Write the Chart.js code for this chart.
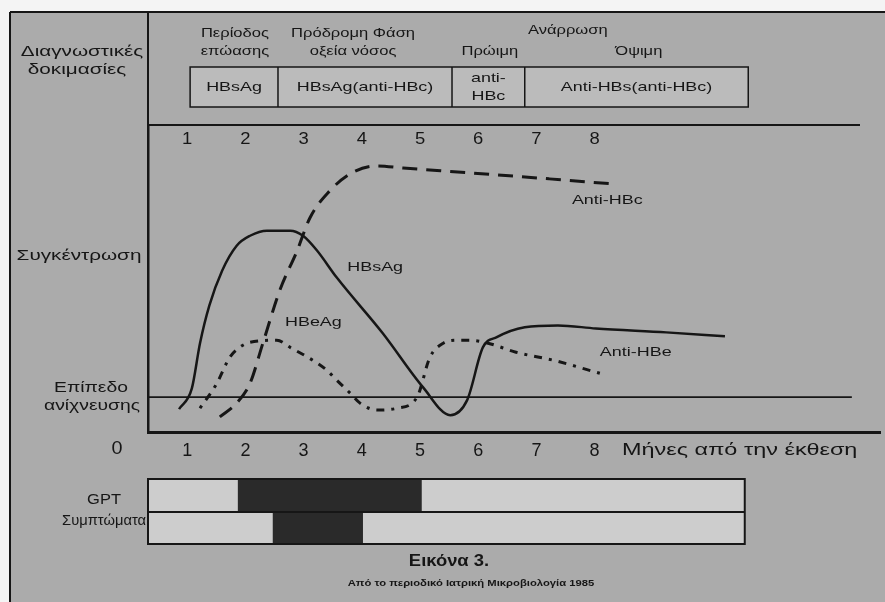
<!DOCTYPE html>
<html>
<head>
<meta charset="utf-8">
<script src="https://cdn.jsdelivr.net/npm/chart.js@4.4.1/dist/chart.umd.min.js"></script>
<style>
  body { margin: 0; background: #fff; }
  #wrap { width: 885px; height: 602px; }
</style>
</head>
<body>
<div id="wrap"><canvas id="myChart" width="885" height="602"></canvas></div>
<script>
let ctx = document.getElementById("myChart").getContext("2d");

// months shown on the axes
let months = [1, 2, 3, 4, 5, 6, 7, 8];

// solid line: HBsAg then anti-HBs
let solidX = [0.86, 1.08, 1.22, 1.38, 1.6, 1.85, 2.08, 2.37, 2.77, 2.99, 3.23, 3.57, 4.36, 5.05, 5.52, 5.81, 6.08, 6.32, 6.8, 7.37, 8.02, 9.23, 10.24];
let solidY = [7.6, 14.5, 29.5, 42.0, 53.6, 61.9, 65.2, 66.9, 66.9, 65.2, 60.3, 51.3, 32.8, 14.9, 5.6, 10.6, 28.1, 31.5, 34.8, 35.4, 34.4, 33.1, 31.8];

// dashed line: anti-HBc
let dashX = [1.56, 1.85, 2.08, 2.3, 2.59, 2.89, 3.11, 3.45, 3.8, 4.26, 4.71, 5.86, 7.22, 8.27];
let dashY = [5.0, 9.6, 16.2, 29.5, 47.0, 60.3, 71.2, 80.1, 85.8, 88.4, 87.7, 86.1, 84.1, 82.5];

// dash-dot line: HBeAg then anti-HBe
let dotX = [1.22, 1.51, 1.73, 1.9, 2.08, 2.54, 2.77, 3.16, 3.4, 3.57, 3.8, 3.97, 4.26, 4.61, 4.95, 5.17, 5.4, 5.64, 5.84, 6.17, 6.65, 7.3, 8.09];
let dotY = [7.9, 16.2, 24.8, 28.1, 29.8, 30.5, 28.1, 23.8, 20.5, 17.2, 12.9, 9.6, 7.3, 7.9, 11.6, 24.8, 29.5, 30.5, 30.5, 29.5, 26.5, 23.8, 19.5];

let detectionLevel = 11.6;
let detectionSpan = [0.33, 12.42];

// curve labels
let curveLabels = ["Anti-HBc", "HBsAg", "HBeAg", "Anti-HBe"];
let curveLabelX = [7.61, 3.75, 2.68, 8.09];
let curveLabelY = [77, 54.8, 36.5, 26.5];

// header: phases and diagnostic tests
let phaseLabels = [["Περίοδος", "επώασης"], ["Πρόδρομη Φάση", "οξεία νόσος"], ["Ανάρρωση"], ["Πρώιμη"], ["Όψιμη"]];
let phaseX = [1.82, 3.85, 7.54, 6.2, 8.76];
let phaseRow = [0, 0, -0.2, 1, 1];
let testBounds = [1.05, 2.56, 5.55, 6.8, 10.64];
let testLabels = [["HBsAg"], ["HBsAg(anti-HBc)"], ["anti-", "HBc"], ["Anti-HBs(anti-HBc)"]];

// bottom bars
let barEnd = 10.58;
let gptRange = [1.87, 5.03];
let symptomRange = [2.47, 4.02];

let ink = "#161616";
let paper = "#ababab";
let font = "'Liberation Sans', Arial, sans-serif";

// the scanned type is set wide; stretch keeps it that way
let wide = 1.38;

function pts(xs, ys) {
  return xs.map((x, i) => ({ x: x, y: ys[i] }));
}

function text(c, s, x, y, size, align, bold, stretch) {
  c.save();
  c.font = (bold ? "bold " : "") + size + "px " + font;
  c.textBaseline = "middle";
  c.fillStyle = ink;
  let w = c.measureText(s).width;
  let sx = stretch || 1;
  let left = x;
  if (align === "right") left = x - w * sx;
  else if (align !== "left") left = x - (w * sx) / 2;
  c.translate(left, y);
  c.scale(sx, 1);
  c.textAlign = "left";
  c.fillText(s, 0, 0);
  c.restore();
}

let figure = {
  id: "figure",
  beforeDraw(chart) {
    let c = chart.ctx;
    c.save();
    c.fillStyle = "#f4f4f4";
    c.fillRect(0, 0, 885, 602);
    c.fillStyle = paper;
    c.fillRect(10, 12, 875, 590);
    c.restore();
  },
  afterDraw(chart) {
    let c = chart.ctx;
    let xs = chart.scales.x;
    let ys = chart.scales.y;
    let px = (v) => xs.getPixelForValue(v);
    let py = (v) => ys.getPixelForValue(v);
    c.save();
    c.strokeStyle = ink;

    // frame lines
    c.lineWidth = 2;
    c.beginPath();
    c.moveTo(10, 12); c.lineTo(885, 12);
    c.moveTo(10, 12); c.lineTo(10, 602);
    c.moveTo(148, 12); c.lineTo(148, 126);
    c.moveTo(148, 125); c.lineTo(860, 125);
    c.stroke();

    // header text
    text(c, "Διαγνωστικές", 82, 52, 15, "center", false, wide);
    text(c, "δοκιμασίες", 77, 70, 15, "center", false, wide);
    phaseLabels.forEach((lines, i) => {
      lines.forEach((s, j) => {
        text(c, s, px(phaseX[i]), 34 + (phaseRow[i] + j) * 17.5, 12, "center", false, wide);
      });
    });

    // test cells
    let top = 67, bottom = 107;
    let bx0 = px(testBounds[0]), bx1 = px(testBounds[testBounds.length - 1]);
    c.fillStyle = "#bbbbbb";
    c.fillRect(bx0, top, bx1 - bx0, bottom - top);
    c.lineWidth = 1.5;
    c.strokeRect(bx0, top, bx1 - bx0, bottom - top);
    c.beginPath();
    for (let i = 1; i < testBounds.length - 1; i++) {
      c.moveTo(px(testBounds[i]), top);
      c.lineTo(px(testBounds[i]), bottom);
    }
    c.stroke();
    testLabels.forEach((lines, i) => {
      let cx = (px(testBounds[i]) + px(testBounds[i + 1])) / 2;
      let cy = (top + bottom) / 2 - (lines.length - 1) * 9;
      lines.forEach((s, j) => text(c, s, cx, cy + j * 18, 13, "center", false, wide));
    });

    // top month numbers
    months.forEach((m) => text(c, String(m), px(m), 140, 16, "center", false, 1.15));

    // y labels
    text(c, "Συγκέντρωση", 79, 256, 15, "center", false, wide);
    text(c, "Επίπεδο", 91, 388, 14, "center", false, wide);
    text(c, "ανίχνευσης", 92, 406, 14, "center", false, wide);

    // x axis extras
    text(c, "0", 117, 449, 18, "center", false, 1.1);
    text(c, "Μήνες από την έκθεση", 622, 450, 17, "left", false, wide);

    // curve labels
    curveLabels.forEach((s, i) => text(c, s, px(curveLabelX[i]), py(curveLabelY[i]), 13, "left", false, wide));

    // GPT / symptoms bars
    let r1 = 479, r2 = 512, r3 = 544;
    let x0 = xs.left, x1 = px(barEnd);
    c.fillStyle = "#cdcdcd";
    c.fillRect(x0, r1, x1 - x0, r3 - r1);
    c.fillStyle = "#2a2a2a";
    c.fillRect(px(gptRange[0]), r1, px(gptRange[1]) - px(gptRange[0]), r2 - r1);
    c.fillRect(px(symptomRange[0]), r2, px(symptomRange[1]) - px(symptomRange[0]), r3 - r2);
    c.lineWidth = 2;
    c.strokeRect(x0, r1, x1 - x0, r3 - r1);
    c.beginPath();
    c.moveTo(x0, r2); c.lineTo(x1, r2);
    c.stroke();
    text(c, "GPT", 104, 500, 15, "center", false, 1.1);
    text(c, "Συμπτώματα", 146, 521, 14, "right", false, 1.05);

    // caption
    text(c, "Εικόνα 3.", 449, 562, 16, "center", true, 1.15);
    text(c, "Από το περιοδικό Ιατρική Μικροβιολογία 1985", 471, 584, 9, "center", true, 1.25);
    c.restore();
  },
};

let myChart = new Chart(ctx, {
  type: "line",
  data: {
    datasets: [
      {
        data: pts(solidX, solidY),
        borderColor: ink,
        borderWidth: 2.5,
        cubicInterpolationMode: "monotone",
      },
      {
        data: pts(dashX, dashY),
        borderColor: ink,
        borderWidth: 3,
        borderDash: [15, 9],
        cubicInterpolationMode: "monotone",
      },
      {
        data: pts(dotX, dotY),
        borderColor: ink,
        borderWidth: 3,
        borderDash: [3, 7, 8, 7],
        cubicInterpolationMode: "monotone",
      },
      {
        data: pts(detectionSpan, [detectionLevel, detectionLevel]),
        borderColor: ink,
        borderWidth: 1.8,
      },
    ],
  },
  options: {
    responsive: false,
    animation: false,
    layout: { padding: { left: 148, top: 125, right: 5, bottom: 0 } },
    elements: { point: { radius: 0 } },
    plugins: { legend: { display: false }, tooltip: { enabled: false } },
    scales: {
      x: {
        type: "linear",
        min: 19 / 58.2,
        max: 751 / 58.2,
        grid: { display: false },
        border: { color: ink, width: 3 },
        afterBuildTicks: (scale) => {
          scale.ticks = months.map((m) => ({ value: m }));
        },
        afterFit: (scale) => {
          scale.height = 170;
        },
        ticks: {
          color: ink,
          padding: 0,
          font: { family: font, size: 18 },
        },
      },
      y: {
        min: 0,
        max: 102,
        grid: { display: false },
        border: { color: ink, width: 2.5 },
        ticks: { display: false },
        afterFit: (scale) => {
          scale.width = 0;
        },
      },
    },
  },
  plugins: [figure],
});
</script>
</body>
</html>
